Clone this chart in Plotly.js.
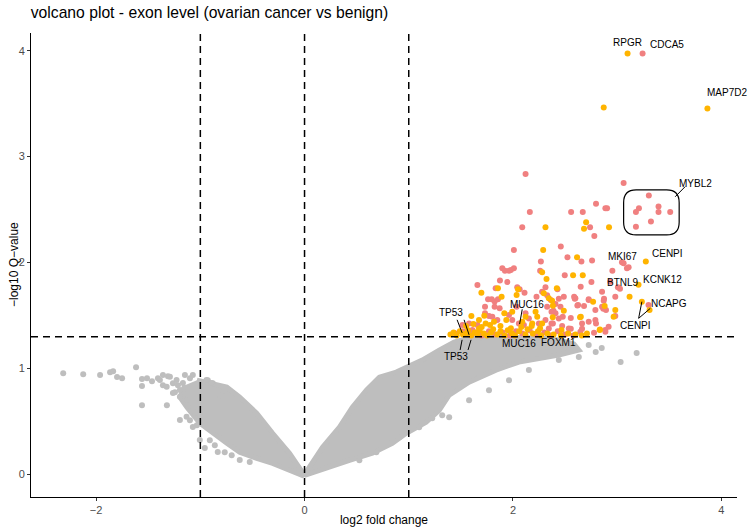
<!DOCTYPE html>
<html>
<head>
<meta charset="utf-8">
<script src="https://cdn.plot.ly/plotly-3.0.1.min.js"></script>
<style>html,body{margin:0;padding:0;background:#fff;}#chart{width:750px;height:527px;}</style>
</head>
<body>
<div id="chart"></div>
<script>
// Dense non-significant cloud outline (log2FC, -log10 Q), two lobes separated by null
const cloudX = [-1.033,-0.746,-0.622,-0.459,-0.306,-0.144,-0.019,0,-0.02,-0.306,-0.459,-0.622,-0.746,-0.880,-1.005,-1.129,-1.196,-1.148,null,
  0,0.172,0.335,0.459,0.593,0.718,0.880,0.986,1.129,1.292,1.435,1.579,1.866,2.249,2.440,2.584,2.632,2.440,2.249,2.057,1.837,1.579,1.388,1.292,1.167,0.976,0.842,0.651,0.431,0.211,0];
const cloudY = [0.889,0.823,0.728,0.577,0.388,0.199,0.019,0,-0.01,0.104,0.151,0.208,0.293,0.388,0.482,0.634,0.728,0.842,null,
  0,0.255,0.445,0.634,0.795,0.918,0.965,1.012,1.079,1.173,1.249,1.287,1.296,1.287,1.268,1.230,1.173,1.126,1.097,1.060,0.984,0.870,0.747,0.605,0.492,0.388,0.293,0.199,0.132,0.057,-0.01];

// Scattered non-significant exons
const nsX = [-2.316,-2.124,-1.962,-1.866,-1.837,-1.799,-1.751,-1.617,-1.560,-1.512,-1.464,-1.560,-1.560,-1.321,-1.407,-1.359,-1.311,-1.263,-1.215,-1.359,-1.148,-1.100,-1.072,-1.244,-1.167,-1.120,-1.053,-1.100,-1.033,-0.928,-0.880,-0.813,-0.766,-0.909,-0.861,-0.766,-0.699,
  -1.388,-1.292,-1.228,-1.167,-1.323,-1.263,-1.196,-1.196,-1.132,-1.072,-1.196,-1.132,-1.072,-0.941,-0.893,-0.785,-1.005,-0.957,-0.833,-0.622,-0.526,
  0.526,0.689,0.813,0.909,1.100,1.225,1.321,1.388,1.579,1.770,1.962,2.153,2.440,2.632,2.794,2.852,3.033,3.187,2.727,2.536];
const nsY = [0.955,0.946,0.937,0.965,0.974,0.918,0.908,1.012,0.899,0.908,0.880,0.833,0.653,0.653,0.908,0.937,0.927,0.861,0.842,0.842,0.937,0.908,0.937,0.776,0.719,0.653,0.587,0.511,0.464,0.889,0.861,0.747,0.795,0.322,0.274,0.208,0.180,
  0.890,0.922,0.890,0.862,0.827,0.768,0.733,0.796,0.702,0.636,0.513,0.544,0.447,0.890,0.862,0.824,0.324,0.249,0.210,0.135,0.116,
  0.132,0.208,0.293,0.350,0.445,0.530,0.558,0.539,0.700,0.795,0.889,0.984,1.079,1.107,1.154,1.192,1.060,1.145,1.220,1.192];

// Significant exons, group A (salmon)
const sigAX = [3.244,2.121,2.162,2.089,2.009,3.062,2.797,2.558,2.670,2.887,2.903,2.740,2.781,2.459,2.523,2.759,2.657,2.268,2.261,1.898,1.923,1.962,2.009,1.980,2.497,2.650,2.753,2.954,3.046,3.062,3.094,3.110,2.934,
  3.209,3.180,3.304,3.397,3.397,3.509,3.324,3.180,3.007,3.027,3.301,
  1.875,1.946,1.659,1.834,2.041,2.064,2.111,2.312,2.280,2.226,2.328,1.796,1.761,1.856,1.824,2.587,2.599,2.682,2.625,2.855,2.871,2.855,2.982,2.874,2.727,2.593,2.618,2.982,2.867,2.893,2.791,2.797,2.663,2.555,2.555,2.478,2.427,2.440,2.363,2.408,2.389,2.472,2.370,2.886,2.778,2.727,2.488,2.456,2.328,2.370,2.408,2.440,2.312,2.249,2.153,2.121,2.035,1.872,1.824,1.732,1.732,1.770,1.802,1.850,1.962,1.993,2.057,2.105,2.663,2.727,2.791,2.887,2.918,2.536,2.383,2.344,2.647,1.579,1.659,1.515,1.611,
  1.45,1.52,1.58,1.64,1.70,1.77,1.83,1.90,1.97,2.03,2.09,2.16,2.22,2.30,2.36,2.43,2.50,2.58];
const sigAY = [3.974,2.835,2.478,2.333,2.119,2.750,2.554,2.478,2.478,2.513,2.513,2.333,2.251,2.150,2.050,2.018,2.009,2.009,1.923,1.946,1.923,1.923,1.946,1.930,1.879,1.772,1.816,1.923,2.002,1.993,1.946,1.955,1.819,
  2.513,2.478,2.633,2.529,2.478,2.478,2.387,2.337,1.766,1.753,1.599,
  1.829,1.816,1.788,1.756,1.766,1.747,1.715,1.766,1.725,1.677,1.690,1.652,1.652,1.652,1.633,1.677,1.662,1.589,1.599,1.725,1.640,1.583,1.677,1.658,1.646,1.658,1.595,1.495,1.564,1.551,1.551,1.425,1.375,1.375,1.476,1.488,1.747,1.658,1.646,1.608,1.545,1.400,1.425,1.362,1.337,1.652,1.677,1.583,1.583,1.536,1.520,1.472,1.457,1.425,1.472,1.520,1.583,1.567,1.583,1.583,1.520,1.495,1.488,1.457,1.504,1.457,1.425,1.409,1.425,1.441,1.457,1.346,1.394,1.378,1.425,1.378,1.346,1.425,1.409,1.409,1.362,
  1.33,1.35,1.32,1.34,1.31,1.35,1.32,1.34,1.31,1.35,1.33,1.36,1.32,1.34,1.31,1.35,1.32,1.31];

// Significant exons, group B (orange)
const sigBX = [3.100,2.871,3.866,2.312,2.702,2.682,2.922,2.290,2.615,2.577,2.670,2.280,2.322,2.421,1.697,1.856,2.035,2.048,1.891,2.296,2.344,2.376,2.383,2.769,2.880,2.982,2.966,3.119,2.488,2.651,2.217,2.233,2.121,1.993,1.601,1.674,1.725,1.917,1.936,2.089,1.818,1.738,2.185,2.280,2.832,1.674,
  3.275,3.205,3.237,3.311,2.644,2.835,2.465,2.382,
  1.40,1.43,1.46,1.49,1.52,1.55,1.57,1.60,1.63,1.66,1.68,1.72,1.75,1.79,1.81,1.85,1.88,1.92,1.95,1.99,2.02,2.06,2.12,2.14,2.19,2.24,2.27,2.33,2.39,2.46,2.53,2.60,2.66,2.71,
  1.55,1.62,1.70,1.78,1.88,1.98,2.08,2.18,2.26];
const sigBY = [3.974,3.463,3.453,2.333,2.381,2.318,2.333,2.119,2.050,1.879,1.879,1.908,1.845,1.756,1.715,1.756,1.693,1.747,1.677,1.709,1.662,1.640,1.592,1.630,1.589,1.551,1.488,1.677,1.545,1.488,1.536,1.488,1.488,1.536,1.495,1.457,1.498,1.520,1.457,1.441,1.441,1.425,1.425,1.425,1.362,1.378,
  2.009,1.791,1.630,1.552,1.482,1.368,1.362,1.482,
  1.32,1.34,1.31,1.35,1.32,1.33,1.36,1.31,1.34,1.32,1.36,1.33,1.31,1.34,1.37,1.32,1.35,1.31,1.36,1.33,1.31,1.35,1.32,1.37,1.33,1.35,1.31,1.33,1.32,1.31,1.33,1.32,1.31,1.33,
  1.40,1.42,1.39,1.41,1.40,1.38,1.39,1.40,1.38];

// Gene labels
const labelText = ["RPGR","CDCA5","MAP7D2","MYBL2","MKI67","CENPI","BTNL9","KCNK12","NCAPG","CENPI","TP53","TP53","MUC16","MUC16","FOXM1"];
const labelX = [3.100,3.477,4.051,3.748,3.053,3.486,3.059,3.435,3.493,3.180,1.404,1.455,2.137,2.057,2.440];
const labelY = [4.076,4.054,3.604,2.748,2.061,2.087,1.809,1.835,1.615,1.410,1.530,1.108,1.599,1.237,1.243];

const vLines = [-1, 0, 1];
const qThreshold = 1.3;

const traces = [
  {x: cloudX, y: cloudY, type: 'scatter', mode: 'lines', fill: 'toself', fillcolor: '#bebebe',
   line: {color: '#bebebe', width: 5}, hoverinfo: 'skip', showlegend: false},
  {x: nsX, y: nsY, type: 'scatter', mode: 'markers', marker: {color: '#bebebe', size: 6}, showlegend: false},
  {x: sigAX, y: sigAY, type: 'scatter', mode: 'markers', marker: {color: '#F08080', size: 6}, showlegend: false},
  {x: sigBX, y: sigBY, type: 'scatter', mode: 'markers', marker: {color: '#FFB400', size: 6}, showlegend: false}
];

const dash = {color: '#000', width: 1.5, dash: '7px,5px'};
const shapes = [];
vLines.forEach(v => shapes.push({type: 'line', xref: 'x', yref: 'paper', x0: v, x1: v, y0: 0, y1: 1, line: dash}));
shapes.push({type: 'line', xref: 'paper', yref: 'y', x0: 0, x1: 1, y0: qThreshold, y1: qThreshold, line: dash});

// leader lines and highlight box
const seg = (x0,y0,x1,y1) => ({type:'line', xref:'x', yref:'y', x0, y0, x1, y1, line:{color:'#000', width:1}});
shapes.push(seg(3.557,2.621,3.652,2.716));
shapes.push(seg(1.464,1.459,1.512,1.336));
shapes.push(seg(1.531,1.459,1.579,1.317));
shapes.push(seg(1.512,1.270,1.493,1.174));
shapes.push(seg(1.598,1.270,1.569,1.174));
shapes.push(seg(2.089,1.558,2.064,1.419));
shapes.push(seg(3.206,1.473,3.237,1.630));
shapes.push(seg(3.206,1.473,3.318,1.567));
const bx0 = 3.062, bx1 = 3.595, by0 = 2.260, by1 = 2.685, rx = 0.12, ry = 0.12;
shapes.push({type:'path', xref:'x', yref:'y', line:{color:'#000', width:1.2},
  path: `M ${bx0+rx},${by1} L ${bx1-rx},${by1} Q ${bx1},${by1} ${bx1},${by1-ry} L ${bx1},${by0+ry} Q ${bx1},${by0} ${bx1-rx},${by0} L ${bx0+rx},${by0} Q ${bx0},${by0} ${bx0},${by0+ry} L ${bx0},${by1-ry} Q ${bx0},${by1} ${bx0+rx},${by1} Z`});

const annotations = labelText.map((t,i) => ({x: labelX[i], y: labelY[i], xref:'x', yref:'y', text: t, showarrow: false,
  font: {family: 'Liberation Sans, Arial, sans-serif', size: 10, color: '#000'}}));
annotations.push({xref: 'paper', yref: 'paper', x: 0, y: 0.5, xshift: -17, xanchor: 'center', yanchor: 'middle',
  textangle: -90, showarrow: false, text: '\u2212log10 Q\u2212value',
  font: {family: 'Liberation Sans, Arial, sans-serif', size: 12, color: '#000'}});

const layout = {
  width: 750, height: 527,
  margin: {l: 31, r: 13, t: 33, b: 30},
  paper_bgcolor: '#fff', plot_bgcolor: '#fff',
  font: {family: 'Liberation Sans, Arial, sans-serif'},
  title: {text: 'volcano plot - exon level (ovarian cancer vs benign)', x: 0.041, xanchor: 'left', xref: 'container',
    y: 0.977, yanchor: 'middle', yref: 'container', font: {size: 15.7, color: '#000'}},
  xaxis: {range: [-2.625, 4.15], tickvals: [-2, 0, 2, 4], ticktext: ['\u22122','0','2','4'], showgrid: false, zeroline: false,
    showline: true, linecolor: '#000', linewidth: 1, ticks: 'outside', ticklen: 3, tickcolor: '#333',
    tickfont: {size: 11, color: '#4d4d4d'},
    title: {text: 'log2 fold change', font: {size: 12, color: '#000'}, standoff: 3}},
  yaxis: {range: [-0.214, 4.167], tickvals: [0, 1, 2, 3, 4], showgrid: false, zeroline: false,
    showline: true, linecolor: '#000', linewidth: 1, ticks: 'outside', ticklen: 3, tickcolor: '#333',
    tickfont: {size: 11, color: '#4d4d4d'}},
  shapes: shapes,
  annotations: annotations,
  showlegend: false
};

Plotly.newPlot('chart', traces, layout, {displayModeBar: false, staticPlot: true});
</script>
</body>
</html>
